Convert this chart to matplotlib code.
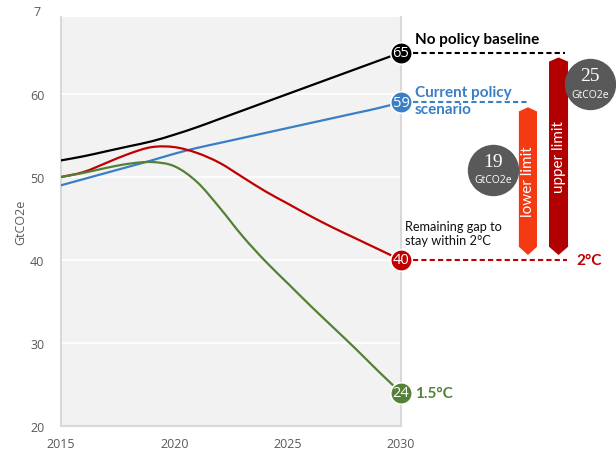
import numpy as np
import matplotlib.pyplot as plt
from matplotlib.patches import Polygon, PathPatch
from matplotlib.path import Path
from matplotlib import transforms

# emissions pathways, GtCO2e per year
years = np.arange(2015, 2031)
baseline = [52.0, 52.5, 53.1, 53.7, 54.3, 55.1, 56.0, 57.0, 58.0, 59.0, 60.0, 61.0, 62.0, 63.0, 64.0, 65.0]
current = [49.0, 49.75, 50.5, 51.25, 52.0, 52.8, 53.5, 54.1, 54.7, 55.3, 55.9, 56.5, 57.1, 57.7, 58.3, 59.0]
two_deg = [50.0, 50.6, 51.7, 52.8, 53.6, 53.6, 52.9, 51.7, 50.0, 48.3, 46.8, 45.3, 43.9, 42.6, 41.3, 40.0]
one_five = [50.0, 50.5, 51.1, 51.6, 51.8, 51.3, 49.4, 46.3, 42.9, 39.9, 37.2, 34.5, 31.9, 29.3, 26.6, 24.0]

x_ticks = [2015, 2020, 2025, 2030]
y_ticks = [20, 30, 40, 50, 60]

c_black = '#000000'
c_blue = '#3a7ec6'
c_red = '#c00000'
c_green = '#538135'
c_low = '#f33a12'
c_up = '#b20000'
c_grey = '#595959'


def smooth_path(x, y):
    # excel style smoothed line: bezier curve through every point
    p = np.column_stack([x, y]).astype(float)
    ext = np.vstack([p[0], p, p[-1]])
    verts = [p[0]]
    codes = [Path.MOVETO]
    for i in range(len(p) - 1):
        a, b, c, d = ext[i], ext[i + 1], ext[i + 2], ext[i + 3]
        verts += [b + (c - a) / 6, c - (d - b) / 6, c]
        codes += [Path.CURVE4] * 3
    return Path(verts, codes)


fig = plt.figure(figsize=(6.16, 4.52), dpi=100)
ax = fig.add_axes([61/616, 25/452, 340/616, 409/452])
ax.set_facecolor('#f2f2f2')
ax.set_xlim(2015, 2030)
ax.set_ylim(20, 20 + 409/8.3)

ax.set_yticks(y_ticks)
ax.set_xticks(x_ticks)
ax.grid(axis='y', color='white', lw=1.3)
ax.set_axisbelow(True)
ax.tick_params(length=0, labelsize=9, colors='#595959')
ax.tick_params(axis='y', pad=12)
ax.tick_params(axis='x', pad=8)
for lab in ax.get_xticklabels() + ax.get_yticklabels():
    lab.set_fontfamily('Open Sans')
ax.spines['top'].set_visible(False)
for s in ['left', 'right', 'bottom']:
    ax.spines[s].set_color('#d9d9d9')
    ax.spines[s].set_linewidth(1.5)
ax.set_ylabel('GtCO2e', fontsize=9, color='#595959', family='Open Sans')
ax.yaxis.set_label_coords(-0.098, 0.5)

# the cut-off "70" label at the top
blend = transforms.blended_transform_factory(ax.transAxes, ax.transData)
ax.text(-0.082, 70, '7', transform=blend, fontsize=9, color='#595959',
        family='Open Sans', ha='left', va='center', clip_on=False)

series = [(baseline, c_black), (current, c_blue), (two_deg, c_red), (one_five, c_green)]
for vals, col in series:
    ax.add_patch(PathPatch(smooth_path(years, vals), fill=False, ec=col, lw=1.6,
                           zorder=3, capstyle='round'))
    ax.plot(years[-1], vals[-1], 'o', ms=15.5, color=col, mec='white', mew=1.2,
            zorder=5, clip_on=False)
    ax.text(years[-1], vals[-1], f'{vals[-1]:.0f}', color='white', fontsize=10.5,
            family='Open Sans', ha='center', va='center', zorder=6)

# dashed leaders to the right
ax.plot([2030.53, 2037.24], [baseline[-1]] * 2, color=c_black, lw=1.5,
        dashes=(2.5, 1.5), clip_on=False)
ax.plot([2030.53, 2035.65], [current[-1]] * 2, color=c_blue, lw=1.5,
        dashes=(2.5, 1.5), clip_on=False)
ax.plot([2030.53, 2037.33], [two_deg[-1]] * 2, color=c_red, lw=1.5,
        dashes=(2.5, 1.5), clip_on=False)

ax.text(2030.62, 66.6, 'No policy baseline', fontsize=11, weight='bold',
        family='Lato', color=c_black, va='center', clip_on=False)
ax.text(2030.62, 59.2, 'Current policy\nscenario', fontsize=11, weight='bold',
        family='Lato', color=c_blue, va='center', linespacing=1.3, clip_on=False)
ax.text(2030.18, 43.25, 'Remaining gap to\nstay within 2°C', fontsize=9.2,
        family='Lato', color='#111111', va='center', linespacing=1.25, clip_on=False)
ax.text(2037.74, two_deg[-1], '2°C', fontsize=11, weight='bold', family='Lato',
        color=c_red, va='center', clip_on=False)
ax.text(2030.62, one_five[-1], '1.5°C', fontsize=11, weight='bold', family='Lato',
        color=c_green, va='center', clip_on=False)


def gap_bar(xc, hw, top, bot, color):
    tip = 1.0
    inset = 0.6
    t = top - inset
    b = bot + inset
    pts = [(xc, t), (xc + hw, t - tip / 2), (xc + hw, b + tip),
           (xc, b), (xc - hw, b + tip), (xc - hw, t - tip / 2)]
    ax.add_patch(Polygon(pts, closed=True, fc=color, ec='none', clip_on=False, zorder=4))
    return (t + b) / 2


mid = gap_bar(2035.6, 0.4, current[-1], two_deg[-1], c_low)
ax.text(2035.6, mid, 'lower limit', rotation=90, color='white', fontsize=11,
        family='Lato', ha='center', va='center', clip_on=False, zorder=6)
mid = gap_bar(2036.95, 0.42, baseline[-1], two_deg[-1], c_up)
ax.text(2036.95, mid, 'upper limit', rotation=90, color='white', fontsize=11,
        family='Lato', ha='center', va='center', clip_on=False, zorder=6)

# gap size bubbles
gaps = [(2034.06, 50.84, current[-1] - two_deg[-1]),
        (2038.34, 61.2, baseline[-1] - two_deg[-1])]
for gx, gy, g in gaps:
    ax.plot(gx, gy, 'o', ms=37, color=c_grey, mec='none', clip_on=False, zorder=7)
    ax.text(gx, gy + 1.0, f'{g:.0f}', color='white', fontsize=14,
            family='Liberation Serif', ha='center', va='center', zorder=8, clip_on=False)
    ax.text(gx, gy - 1.2, 'GtCO2e', color='white', fontsize=7.5,
            family='Open Sans', ha='center', va='center', zorder=8, clip_on=False)

fig.savefig('out.png', dpi=100)
